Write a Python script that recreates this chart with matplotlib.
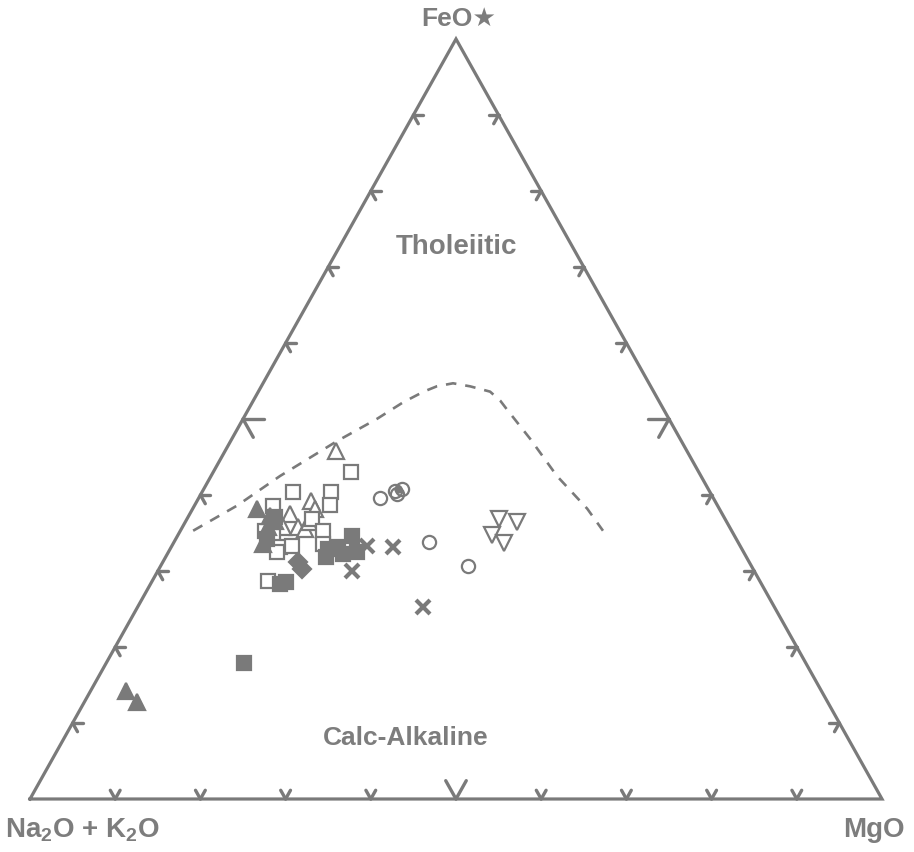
"""AFM ternary diagram (FeO* - Na2O+K2O - MgO), tholeiitic vs calc-alkaline."""

import matplotlib
matplotlib.use("Agg")
import matplotlib.pyplot as plt
import numpy as np

GREY = "#7a7a7a"
TXT = "#7d7d7d"

plt.rcParams["font.family"] = ["Liberation Sans", "DejaVu Sans"]
plt.rcParams["mathtext.fontset"] = "custom"
plt.rcParams["mathtext.rm"] = "Liberation Sans:bold"
plt.rcParams["mathtext.bf"] = "Liberation Sans:bold"

# ---------------------------------------------------------------- data
# compositions in percent: FeO*, MgO (Na2O+K2O is the remainder)
boundary_feo = [35.3, 38.6, 42.5, 47.1, 50.0, 52.2, 53.6, 54.3, 54.7, 54.3,
                53.6, 52.4, 51.3, 47.4, 42.5, 38.2, 35.3]
boundary_mgo = [1.5, 5.0, 8.1, 12.5, 15.7, 17.7, 19.4, 20.6, 22.3, 24.5,
                27.2, 29.0, 30.3, 35.0, 40.6, 46.3, 49.6]

open_tri_feo = [45.8, 39.2, 38.2, 37.5, 35.8, 35.8, 35.5, 36.4]
open_tri_mgo = [13.0, 13.4, 14.4, 11.8, 11.8, 13.6, 14.5, 14.6]

open_sq_feo = [43.0, 40.4, 40.4, 38.7, 38.6, 36.8, 35.3, 34.6, 35.3, 33.6, 33.2, 33.3, 32.5, 28.7]
open_sq_mgo = [16.2, 10.7, 15.1, 15.9, 9.2, 14.7, 9.9, 11.2, 16.7, 17.6, 12.8, 14.1, 12.7, 13.6]

fill_tri_feo = [38.2, 37.2, 33.6, 35.8, 36.6, 14.2, 12.8]
fill_tri_mgo = [7.6, 9.6, 10.6, 10.0, 10.5, 4.2, 6.2]

fill_sq_feo = [34.6, 32.9, 33.2, 31.8, 32.5, 32.2, 28.6, 28.3, 17.9, 37.1, 34.2]
fill_sq_mgo = [20.5, 18.5, 19.5, 18.9, 22.1, 20.6, 15.7, 15.2, 16.2, 10.2, 10.7]

diamond_feo = [31.2, 30.3]
diamond_mgo = [15.8, 16.8]

cross_feo = [33.3, 33.2, 30.0, 25.3]
cross_mgo = [22.9, 26.0, 22.8, 33.5]

circle_feo = [39.6, 40.5, 40.8, 40.1, 33.8, 30.7]
circle_mgo = [21.3, 22.6, 23.3, 23.0, 29.9, 36.1]

dot_feo = [40.8]
dot_mgo = [22.8]

inv_tri_feo = [36.8, 36.4, 34.7, 33.7]
inv_tri_mgo = [36.7, 39.0, 36.9, 38.8]

tick_steps = list(range(1, 10))   # 10 % divisions on every side


def to_xy(feo, mgo):
    f = np.asarray(feo) / 100.0
    m = np.asarray(mgo) / 100.0
    return m + 0.5 * f, f


# ---------------------------------------------------------------- figure
fig = plt.figure(figsize=(9.14, 8.53), dpi=100)
# triangle base 30..882 px, apex at 40 px, base at 800 px
ax = fig.add_axes([30 / 914, 53 / 853, 852 / 914, 760 / 853])
ax.set_xlim(0, 1)
ax.set_ylim(0, 1)
ax.axis("off")

PX, PY = 852.0, 760.0   # pixels per data unit

# outline
ax.plot([0, 1, 0.5, 0], [0, 0, 1, 0], color=GREY, lw=2.3,
        solid_joinstyle="miter", clip_on=False)


# chevron ticks, arms run along the grid directions into the triangle
def arm(dx_px, dy_px, length):
    n = np.hypot(dx_px, dy_px)
    return dx_px / n * length / PX, dy_px / n * length / PY


for k in tick_steps:
    t = k / 10.0
    L = 21 if k == 5 else 10
    edges = [
        ((0.5 * t, t), [arm(1, 0, L), arm(426, -760, L)]),        # left
        ((1 - 0.5 * t, t), [arm(-1, 0, L), arm(-426, -760, L)]),  # right
        ((t, 0), [arm(426, 760, L), arm(-426, 760, L)]),          # bottom
    ]
    for p, arms in edges:
        for d in arms:
            ax.plot([p[0], p[0] + d[0]], [p[1], p[1] + d[1]], color=GREY,
                    lw=2.4, solid_capstyle="round", clip_on=False)

# tholeiitic / calc-alkaline boundary
bx, by = to_xy(boundary_feo, boundary_mgo)
ax.plot(bx, by, color=GREY, lw=1.9, linestyle=(0, (4, 3.4)),
        solid_joinstyle="round")

# samples
ms = 9.5
ew = 1.6
x, y = to_xy(open_tri_feo, open_tri_mgo)
ax.plot(x, y, "^", ms=ms + 1.5, mfc="white", mec=GREY, mew=ew, ls="none")
x, y = to_xy(open_sq_feo, open_sq_mgo)
ax.plot(x, y, "s", ms=ms, mfc="white", mec=GREY, mew=ew, ls="none")
x, y = to_xy(fill_tri_feo, fill_tri_mgo)
ax.plot(x, y, "^", ms=ms + 1.5, mfc=GREY, mec=GREY, mew=ew, ls="none")
x, y = to_xy(fill_sq_feo, fill_sq_mgo)
ax.plot(x, y, "s", ms=ms, mfc=GREY, mec=GREY, mew=ew, ls="none")
x, y = to_xy(diamond_feo, diamond_mgo)
ax.plot(x, y, "D", ms=ms, mfc=GREY, mec=GREY, mew=ew, ls="none")
x, y = to_xy(cross_feo, cross_mgo)
ax.plot(x, y, "x", ms=9.5, mec=GREY, mew=3.0, ls="none")
x, y = to_xy(circle_feo, circle_mgo)
ax.plot(x, y, "o", ms=ms, mfc="none", mec=GREY, mew=ew, ls="none")
x, y = to_xy(dot_feo, dot_mgo)
ax.plot(x, y, "o", ms=5, mfc=GREY, mec=GREY, ls="none")
x, y = to_xy(inv_tri_feo, inv_tri_mgo)
ax.plot(x, y, "v", ms=ms + 1.5, mfc="white", mec=GREY, mew=ew, ls="none")

# labels
ax.text(0.503, 1.028, "FeO★", ha="center", va="center", fontsize=19,
        fontweight="bold", color=TXT, clip_on=False)
ax.text(0.5, 0.728, "Tholeiitic", ha="center", va="center", fontsize=20,
        fontweight="bold", color=TXT)
ax.text(0.441, 0.082, "Calc-Alkaline", ha="center", va="center", fontsize=19,
        fontweight="bold", color=TXT)
ax.text(-0.029, -0.040, r"Na$_2$O + K$_2$O", ha="left", va="center",
        fontsize=20, fontweight="bold", color=TXT, clip_on=False)
ax.text(1.027, -0.040, "MgO", ha="right", va="center", fontsize=20,
        fontweight="bold", color=TXT, clip_on=False)

fig.savefig("out.png", dpi=100, facecolor="white")
